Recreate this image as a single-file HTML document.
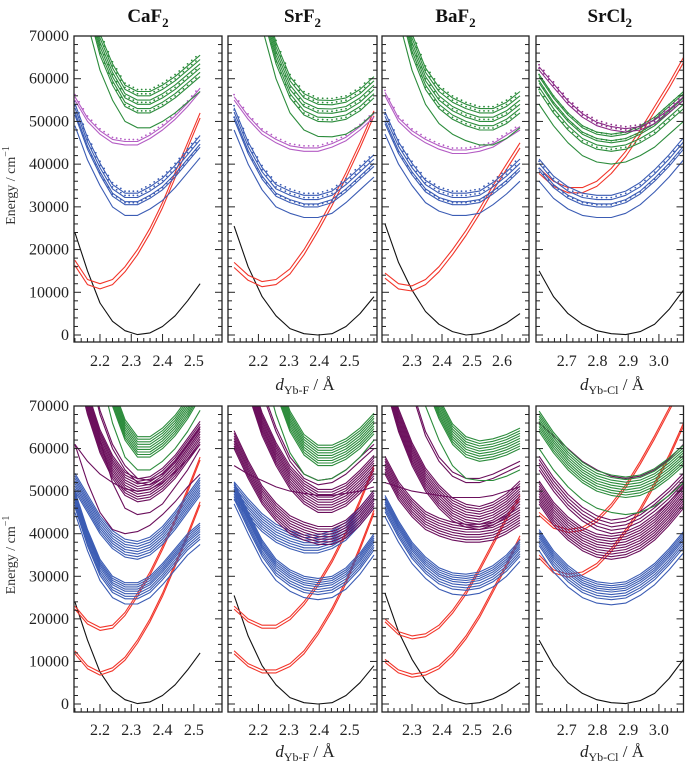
<!DOCTYPE html>
<html><head><meta charset="utf-8"><style>
html,body{margin:0;padding:0;background:#fff;}
svg{display:block;font-family:"Liberation Serif",serif;}
</style></head><body>
<svg id="chart" width="685" height="762" viewBox="0 0 685 762" xmlns="http://www.w3.org/2000/svg"></svg>
<script>
// ---------- data ----------
const yTicks=[0,10000,20000,30000,40000,50000,60000,70000];
const caTicks=[2.2,2.3,2.4,2.5];
const srTicks=[2.2,2.3,2.4,2.5];
const baTicks=[2.3,2.4,2.5,2.6];
const clTicks=[2.7,2.8,2.9,3.0];
const gridCa=[2.12,2.16,2.20,2.24,2.28,2.32,2.36,2.40,2.44,2.48,2.52];
const gridSr=[2.12,2.166,2.212,2.258,2.304,2.35,2.396,2.442,2.488,2.534,2.58];
const gridBa=[2.21,2.255,2.30,2.345,2.39,2.435,2.48,2.525,2.57,2.615,2.66];
const gridCl=[2.61,2.657,2.704,2.751,2.798,2.845,2.892,2.939,2.986,3.033,3.08];
// ground state (thousand cm-1)
const caBlack=[24,15,7.5,3.2,1,0.1,0.5,2,4.5,8,12];
const srBlack=[25.5,16,9,4.5,1.5,0.3,0,0.3,2,5,9];
const baBlack=[26,17,10.5,5.5,2.5,0.8,0,0.3,1.2,2.8,5];
const clBlack=[15,9,5,2.5,1,0.3,0.1,0.8,2.5,6,10.5];
// top row
const caTopRed=[17.5,13,12,13,16,20,25,31,38,45,52];
const srTopRed=[17,14,12.5,13,15.5,20,25.5,31.5,38,45,52.5];
const baTopRed=[14.5,12,11.5,13,16,20,24.5,29.5,35,40,45];
const clTopRed=[39,36,34.5,34.5,36,39,43,48,53.5,59,65];
const topRedOff=[0,-1.2];
const caTopBlue=[49,41,35,30,28,28,29.5,31.5,34.5,38,41.5];
const srTopBlue=[48,40,34,30,28.5,27.5,27.5,28.5,31,34,37];
const baTopBlue=[47,40,35,31,29,28,28,28.5,30.5,33,36];
const clTopBlue=[36,32,29.5,28,27.5,27.5,28.5,30.5,33.5,37,41];
const topBlueOff=[0,2.5,3.2,4.2,5.2];
const caTopMag=[55,50,47,45,44.5,44.5,46,48,50.5,53.5,57];
const srTopMag=[55,50.5,47,45,43.5,43,43,44,45.5,48,51];
const baTopMag=[56,50,47,45,43.5,42.5,42.5,43,44,46,48];
const clTopMag=[62,58,54,51,49,48,47.5,48,49.5,52,55];
const topMagOff=[0,0.8];
const caTopGreen=[90,73,62,55,50,48.5,48.5,50,52,54.5,57];
const srTopGreen=[105,88,72,60,52,48,46.5,46.4,47,49,52];
const baTopGreen=[90,74,62,54,49.5,47,45.5,44.5,44.5,46,48.5];
const clTopGreen=[54,49,45,42,40.5,40,40.5,42,44,47,50];
const topGreenOff=[0,3.5,4.5,5.5,6.5,7.5,8.5];
const clTopGreenOff=[0,3,4,5,5.5,6.5,7];
// bottom row
const caRedLo=[12.5,9,7.5,8.5,11,15,20,26,33,40,47.5];
const caRedHi=[23,19.5,18,18.5,21.5,26,31,37,43.5,50.5,58];
const srRedLo=[12.5,9.5,8,8,9.5,12.5,17,22.5,29,37,45.5];
const srRedHi=[23,20,18.5,18.5,20.5,24,28.5,34,40.5,48,56];
const baRedLo=[10.5,8,7,7.5,9,12,16,21,27,33,39.5];
const baRedHi=[20,17,16,16.5,18.5,22,26.5,32,38,44,49];
const clRedLo=[35,31.5,30.5,31,33,36.5,41,46,52,58.5,66];
const clRedHi=[45,42,41,41.5,43.5,47,51.5,57,63,69.5,76];
const botRedOff=[0,-0.7];
const caBlueLo=[45,36,29,25,23.5,23.5,25,28,31.5,35,37.5];
const caBlueHi=[50,45,40,36.5,34.5,34,35,37.5,41,45,49];
const srBlueLo=[47,40,33.5,29,26.5,25,24.5,25,27,30.5,35];
const srBlueHi=[48,44,40.5,38,36.5,35.5,35.5,36.5,38.5,42,46];
const baBlueLo=[44,38,33,29.5,27,25.8,25.5,26,27.5,30,33.5];
const clBlueLo=[36,31,27.5,25,23.7,23.3,23.7,25.5,28,31.5,35.5];
const blueLoOff=[0,1.2,1.8,2.4,3,3.5,4,4.5,5];
const blueHiOff=[0,0.6,1.2,1.8,2.4,3,3.6,4.2];
const caPurLow=[61,52,45,41,40,40.5,42,44.5,47.5,51,54];
const caPurMid=[90,75,62,52,46,44.5,45,47,51,55,60];
const caPurClu=[80,68,59,53,49,47.5,48,50,53,57,61];
const caPurCross=[61,57,54,52,50.5,50,50.5,52,54.5,57.5,61];
const caPurTop=[95,80,68,60,55,52,51.5,53,56,60,64];
const srPurLow=[60,53,47,43,40,38.5,37.5,37.5,39,42,46];
const srPurClu=[85,73,63,56,50.5,47,45,45,46.5,49.5,53];
const srPurCross=[56,54,52.5,51,50,49.5,49,49,49.5,50,51];
const srPurTop=[100,85,73,64,57,53,51.5,52,54,57,60];
const baPurLow=[54,48,44,41,39.5,38.5,38,38,38.5,40,42];
const baPurClu=[75,64,56,50,46,43,41.5,41,42,44,47];
const baPurCross=[52,51,50,49.5,49,48.5,48.5,48.5,49,50,51];
const baPurTop=[100,85,73,63,57,53.5,52,52,53,54.5,56];
const clPurLow=[47,42,38.5,36,34.5,34,34.5,36,38.5,42,46];
const clPurClu=[55,50,46,43,41,40,40.5,42,44.5,47.5,51];
const clPurTop=[66,63,60,57,55,53.5,53,53.5,55,57.5,61];
const purCluOff=[0,0.6,1.2,1.8,2.4,3,3.6,4.2,4.8,5.4];
const purLowOff=[0,0.6,1.2,1.8,2.4,3,3.6,4.2];
const caGreenLow=[110,92,78,66,58,55,55,57,60,64,69];
const caGreenClu=[115,97,82,70,62,58,58,60,63,67,72];
const srGreenLow=[110,95,80,68,59,54,52.5,53,55,58,62];
const srGreenClu=[115,100,85,73,64,58.5,56,56,57.5,60,63.5];
const baGreenLow=[110,95,81,70,62,56,53,52.5,52.5,53.5,55];
const baGreenClu=[115,100,86,75,67,61,58,57,57.5,58.5,60];
const clGreenLow=[60,55,51,48,46,45,44.5,45,46.5,49,52];
const clGreenClu=[64,59,55,52,50,49,48.5,49,50.5,53,56];
const greenCluOff=[0,0.6,1.2,1.8,2.4,3,3.6,4.2,4.8];
const single=[0];

// ---------- colors / layout ----------
const C={black:'#111',red:'#f2352a',blue:'#3b5cb4',mag:'#b45cc4',pur:'#6b0f5c',green:'#2c8c3c'};
const NS='http://www.w3.org/2000/svg';
const svg=document.getElementById('chart');
function mk(tag,attrs,parent){const e=document.createElementNS(NS,tag);for(const k in attrs)e.setAttribute(k,attrs[k]);(parent||svg).appendChild(e);return e;}

const panels=[
 {id:'caf2',x0:74,x1:222,d0:2.117,d1:2.59,ticks:caTicks,grid:gridCa},
 {id:'srf2',x0:228,x1:377,d0:2.10,d1:2.59,ticks:srTicks,grid:gridSr},
 {id:'baf2',x0:382,x1:529,d0:2.20,d1:2.69,ticks:baTicks,grid:gridBa},
 {id:'srcl2',x0:536,x1:683.5,d0:2.60,d1:3.08,ticks:clTicks,grid:gridCl}
];
const rows=[{id:'top',top:36,zero:335,bottom:342},{id:'bottom',top:406,zero:704,bottom:712}];

const topFam=[
 [[caBlack,single,C.black,[]],[caTopRed,topRedOff,C.red,[]],[caTopBlue,topBlueOff,C.blue,[1,3,4]],[caTopMag,topMagOff,C.mag,[1]],[caTopGreen,topGreenOff,C.green,[1,3,5,6]]],
 [[srBlack,single,C.black,[]],[srTopRed,topRedOff,C.red,[]],[srTopBlue,topBlueOff,C.blue,[1,3,4]],[srTopMag,topMagOff,C.mag,[1]],[srTopGreen,topGreenOff,C.green,[1,3,5,6]]],
 [[baBlack,single,C.black,[]],[baTopRed,topRedOff,C.red,[]],[baTopBlue,topBlueOff,C.blue,[1,3,4]],[baTopMag,topMagOff,C.mag,[1]],[baTopGreen,topGreenOff,C.green,[1,3,5,6]]],
 [[clBlack,single,C.black,[]],[clTopRed,topRedOff,C.red,[]],[clTopBlue,topBlueOff,C.blue,[1,3]],[clTopGreen,clTopGreenOff,C.green,[1,3,5]],[clTopMag,topMagOff,'#8a2a86',[0,1]]]
];
const botFam=[
 [[caBlack,single,C.black],[caRedLo,botRedOff,C.red],[caRedHi,botRedOff,C.red],[caBlueLo,blueLoOff,C.blue],[caBlueHi,blueHiOff,C.blue],[caPurLow,single,C.pur],[caPurMid,single,C.pur],[caPurClu,purCluOff,C.pur],[caPurCross,single,C.pur],[caPurTop,[0,1],C.pur],[caGreenLow,single,C.green],[caGreenClu,greenCluOff,C.green]],
 [[srBlack,single,C.black],[srRedLo,botRedOff,C.red],[srRedHi,botRedOff,C.red],[srBlueLo,blueLoOff,C.blue],[srBlueHi,blueHiOff,C.blue],[srPurLow,purLowOff,C.pur],[srPurClu,purCluOff,C.pur],[srPurCross,single,C.pur],[srPurTop,[0,1],C.pur],[srGreenLow,single,C.green],[srGreenClu,greenCluOff,C.green]],
 [[baBlack,single,C.black],[baRedLo,botRedOff,C.red],[baRedHi,botRedOff,C.red],[baBlueLo,blueLoOff,C.blue],[baPurLow,purLowOff,C.pur],[baPurClu,purCluOff,C.pur],[baPurCross,single,C.pur],[baPurTop,[0,1],C.pur],[baGreenLow,single,C.green],[baGreenClu,greenCluOff,C.green]],
 [[clBlack,single,C.black],[clRedLo,botRedOff,C.red],[clRedHi,botRedOff,C.red],[clBlueLo,blueLoOff,C.blue],[clPurLow,purCluOff,C.pur],[clPurClu,[0,0.8,1.6,2.4,3.2],C.pur],[clPurTop,single,C.pur],[clGreenLow,single,C.green],[clGreenClu,greenCluOff,C.green]]
];

const titles=[['CaF','2'],['SrF','2'],['BaF','2'],['SrCl','2']];

rows.forEach((row,ri)=>{
 const yS=v=>row.zero-(v/70)*(row.zero-row.top); // v in thousands
 panels.forEach((p,pi)=>{
  const xS=d=>p.x0+(d-p.d0)/(p.d1-p.d0)*(p.x1-p.x0);
  const g=mk('g',{});
  
  
  const cid=`clip-${p.id}-${row.id}`;
  const cp=mk('clipPath',{id:cid},g);
  mk('rect',{x:p.x0,y:row.top,width:p.x1-p.x0,height:row.bottom-row.top},cp);
  const cg=mk('g',{'clip-path':`url(#${cid})`},g);
  const fams=ri===0?topFam[pi]:botFam[pi];
  fams.forEach(f=>{
   const [vals,offs,col,dots]=f;
   offs.forEach((o,oi)=>{
    const pts=p.grid.map((d,i)=>[xS(d),yS(vals[i]+o)]);
    const pl=mk('polyline',{points:pts.map(q=>q[0].toFixed(1)+','+q[1].toFixed(1)).join(' '),fill:'none',stroke:col,'stroke-width':1.1,'stroke-linejoin':'round'},cg);
    
    
    if(dots&&dots.includes(oi)){
     for(let i=0;i<pts.length-1;i++){
      for(let k=0;k<3;k++){
       const t=k/3;
       const c=mk('circle',{cx:pts[i][0]+(pts[i+1][0]-pts[i][0])*t,cy:pts[i][1]+(pts[i+1][1]-pts[i][1])*t-2,r:0.9,fill:col},cg);
       
       
      }
     }
    }
   });
  });
  const fr=mk('rect',{x:p.x0,y:row.top,width:p.x1-p.x0,height:row.bottom-row.top,fill:'none',stroke:'#222','stroke-width':1.3},g);
  
  
  for(let v=0;v<=70;v+=2){
   const y=yS(v);const L=(v%10===0)?7:4;
   mk('line',{x1:p.x0,x2:p.x0+L,y1:y,y2:y,stroke:'#222','stroke-width':1},g);
   mk('line',{x1:p.x1-L,x2:p.x1,y1:y,y2:y,stroke:'#222','stroke-width':1},g);
  }
  const startT=Math.ceil(p.d0/0.02)*0.02;
  for(let d=startT;d<=p.d1+1e-9;d+=0.02){
   const x=xS(d);const major=Math.abs(Math.round(d*10)-d*10)<1e-6;
   mk('line',{x1:x,x2:x,y1:row.bottom,y2:row.bottom-(major?8:4),stroke:'#222','stroke-width':1},g);
  }
  p.ticks.forEach(t=>{
   const tx=mk('text',{x:xS(t),y:ri===0?366:735,'text-anchor':'middle','font-size':16,fill:'#222'},g);
   tx.textContent=t.toFixed(1);
   
   
  });
  if(pi===0){
   yTicks.forEach(v=>{
    const tx=mk('text',{x:69,y:yS(v/1000)+5,'text-anchor':'end','font-size':16,fill:'#222'},g);
    tx.textContent=String(v);
    
    
   });
  }
  if(ri===0){
   const tt=mk('text',{x:(p.x0+p.x1)/2,y:22,'text-anchor':'middle','font-size':19,'font-weight':'bold',fill:'#111'},g);
   
   
   tt.appendChild(document.createTextNode(titles[pi][0]));
   const sb=mk('tspan',{'font-size':13,dy:5},tt);sb.textContent=titles[pi][1];
  }
 });
 const yt=mk('text',{x:0,y:0,transform:`translate(15,${(row.top+row.zero)/2}) rotate(-90)`,'text-anchor':'middle','font-size':14,fill:'#333'});
 
 
 yt.appendChild(document.createTextNode('Energy / cm'));
 const sp=mk('tspan',{'font-size':10,dy:-6},yt);sp.textContent='−1';
 [['F',305],['Cl',612]].forEach(([el,cx])=>{
  const at=mk('text',{x:cx,y:ri===0?390:757,'text-anchor':'middle','font-size':17,fill:'#222'});
  
  
  const d=mk('tspan',{'font-style':'italic'},at);d.textContent='d';
  const s=mk('tspan',{'font-size':12,dy:4},at);s.textContent='Yb-'+el;
  const r=mk('tspan',{dy:-4},at);r.textContent=' / Å';
 });
});
</script>
</body></html>
